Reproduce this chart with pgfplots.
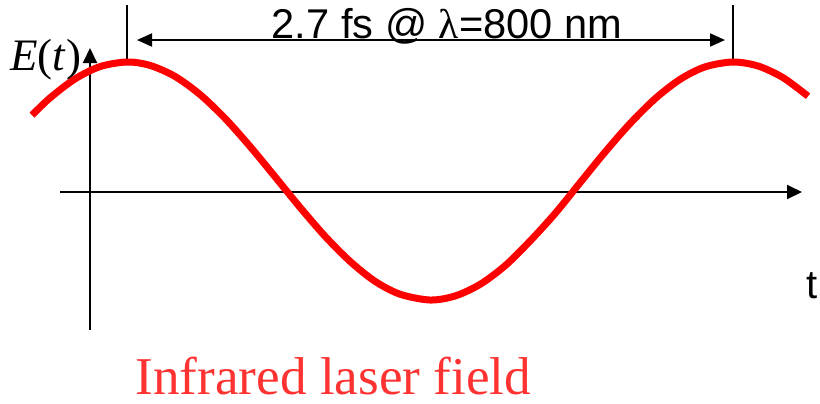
\documentclass[border=0pt]{standalone}
\usepackage{fontspec}
\setmainfont{Liberation Serif}
\newfontfamily\arial{Liberation Sans}
\usepackage{pgfplots}
\pgfplotsset{compat=1.18}
\usetikzlibrary{arrows.meta}
\definecolor{lred}{RGB}{255,50,50}
\begin{document}
\begin{tikzpicture}
\begin{axis}[
  scale only axis, width=410pt, height=201.5pt,
  xmin=0, xmax=820, ymin=0, ymax=403, y dir=reverse,
  hide axis, clip=false, anchor=south west, at={(0,0)}]
\path (axis cs:0,0) rectangle (axis cs:820,403);
% axes
\draw[line width=1pt,-{Triangle[length=7.5pt,width=7pt]}] (axis cs:60,192) -- (axis cs:802,192);
\draw[line width=1pt,-{Triangle[length=7.5pt,width=7pt]}] (axis cs:90,330) -- (axis cs:90,48);
% period markers
\draw[line width=1pt] (axis cs:127,5) -- (axis cs:127,62);
\draw[line width=1pt] (axis cs:733,5) -- (axis cs:733,62);
\draw[line width=1pt,{Triangle[length=7.5pt,width=6.5pt]}-{Triangle[length=7.5pt,width=6.5pt]}] (axis cs:137,40) -- (axis cs:725,40);
% curve
\addplot[draw={rgb,255:red,255;green,0;blue,0}, line width=3.5pt, smooth, line cap=butt] coordinates {
(32,115.2) (50,97.9) (75,78.9) (100,66.6) (127,62) (150,65.4) (175,76.4)
(200,94.5) (225,118.3) (250,146.4) (275,176.7) (300,207.3) (325,236.2)
(350,261.3) (375,281.3) (400,294.2) (430,300) (455,296.0) (480,284.4)
(505,265.8) (530,241.1) (555,213.6) (580,182.8) (605,152.1) (630,123.6)
(655,98.8) (680,79.4) (705,66.9) (733,62) (758,66.0) (783,77.6) (808,96.2)
};
% texts
\node[anchor=base, inner sep=0pt] at (axis cs:447,38) {\arial\fontsize{20.8pt}{20.8pt}\selectfont 2.7 fs @ {\rmfamily λ}=800 nm};
\node[anchor=base west, inner sep=0pt] at (axis cs:10,70) {\fontsize{22.5pt}{22.5pt}\selectfont \textit{E}(\textit{t})};
\node[anchor=base west, inner sep=0pt] at (axis cs:806,298) {\arial\fontsize{20pt}{20pt}\selectfont t};
\node[anchor=base west, inner sep=0pt, text=lred] at (axis cs:135,394) {\fontsize{26.6pt}{26.6pt}\selectfont Infrared laser field};
\end{axis}
\end{tikzpicture}
\end{document}
